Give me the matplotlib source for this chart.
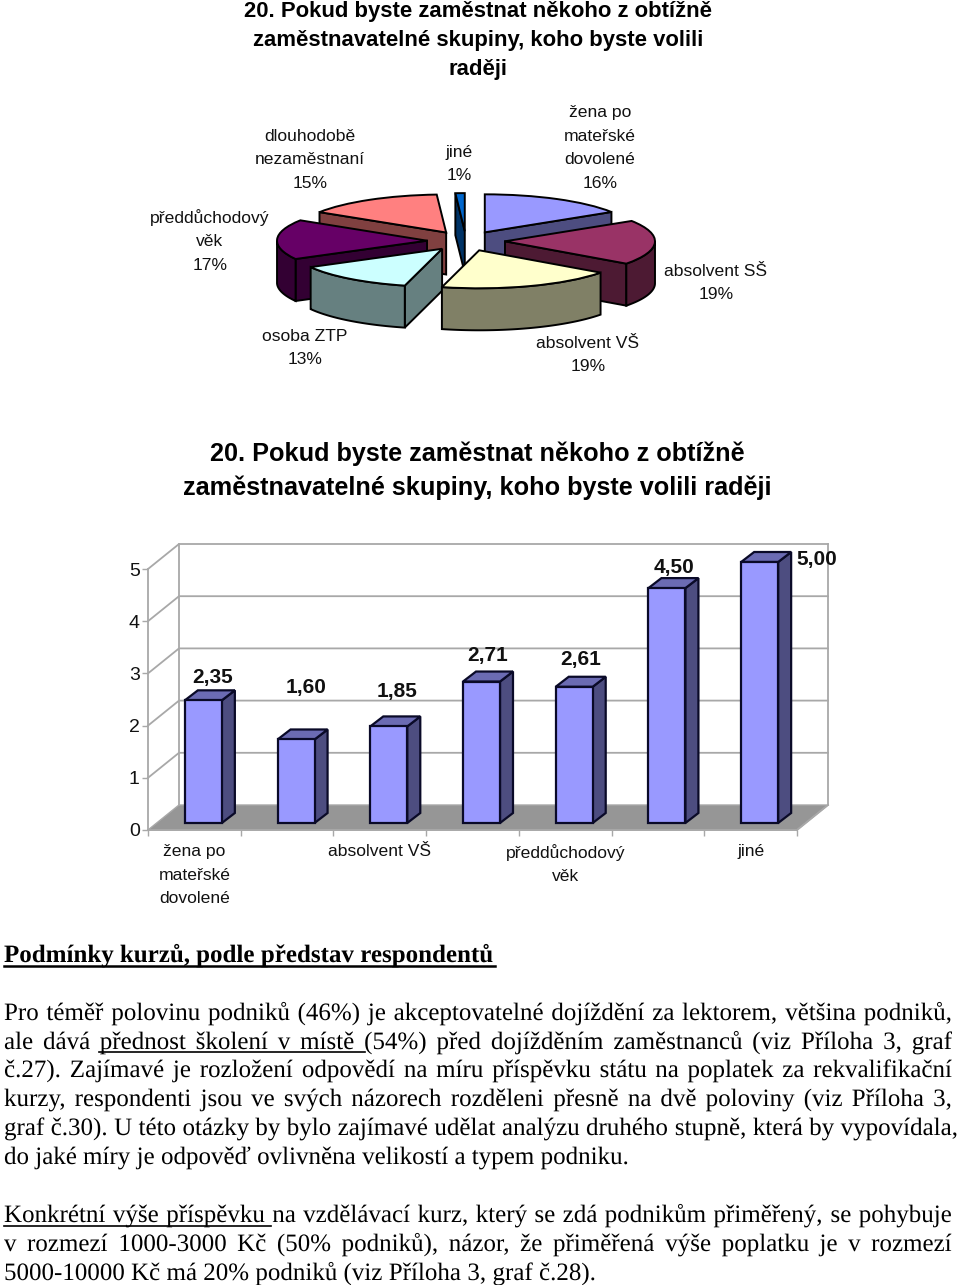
import numpy as np
import matplotlib
matplotlib.use("Agg")
import matplotlib.pyplot as plt
import matplotlib.patheffects as pe
from matplotlib.patches import Polygon

W, H = 960, 1285
DPI = 100

# pie data, clockwise from 12 o'clock
pie_shares = [16, 19, 19, 13, 17, 15, 1]
pie_top_colors = ["#9999FF", "#993366", "#FFFFCC", "#CCFFFF", "#660066", "#FF8080", "#0066CC"]
pie_side_colors = ["#4D4D80", "#4D1A33", "#808066", "#668080", "#330033", "#804040", "#003366"]
pie_labels = ["žena po\nmateřské\ndovolené\n16%", "absolvent SŠ\n19%", "absolvent VŠ\n19%", "osoba ZTP\n13%",
              "předdůchodový\nvěk\n17%", "dlouhodobě\nnezaměstnaní\n15%", "jiné\n1%"]

# bar data
bar_categories = ["žena po\nmateřské\ndovolené", "", "absolvent VŠ", "", "předdůchodový\nvěk", "", "jiné"]
bar_values = [2.35, 1.60, 1.85, 2.71, 2.61, 4.50, 5.00]
bar_value_labels = ["2,35", "1,60", "1,85", "2,71", "2,61", "4,50", "5,00"]
y_ticks = [0, 1, 2, 3, 4, 5]

title_top = ["20. Pokud byste zaměstnat někoho z obtížně", "zaměstnavatelné skupiny, koho byste volili", "raději"]
title_bar = ["20. Pokud byste zaměstnat někoho z obtížně", "zaměstnavatelné skupiny, koho byste volili raději"]

heading = "Podmínky kurzů, podle představ respondentů"
para1 = [
    "Pro téměř polovinu podniků (46%) je akceptovatelné dojíždění za lektorem, většina podniků,",
    "ale dává přednost školení v místě (54%) před dojížděním zaměstnanců (viz Příloha 3, graf",
    "č.27). Zajímavé je rozložení odpovědí na míru příspěvku státu na poplatek za rekvalifikační",
    "kurzy, respondenti jsou ve svých názorech rozděleni přesně na dvě poloviny (viz Příloha 3,",
    "graf č.30). U této otázky by bylo zajímavé udělat analýzu druhého stupně, která by vypovídala,",
]
para1_last = "do jaké míry je odpověď ovlivněna velikostí a typem podniku."
para2 = [
    "Konkrétní výše příspěvku na vzdělávací kurz, který se zdá podnikům přiměřený, se pohybuje",
    "v rozmezí 1000-3000 Kč (50% podniků), názor, že přiměřená výše poplatku je v rozmezí",
]
para2_last = "5000-10000 Kč má 20% podniků (viz Příloha 3, graf č.28)."

SANS = "Liberation Sans"
SERIF = "Liberation Serif"
LABEL_SIZE = 12.6
TEXT_SIZE = 18.0

fig = plt.figure(figsize=(W / DPI, H / DPI), dpi=DPI, facecolor="white")


def px_axes(x0, y0, x1, y1):
    # axes from pixel box, y measured from the top of the image
    return fig.add_axes([x0 / W, 1 - y1 / H, (x1 - x0) / W, (y1 - y0) / H])


page = px_axes(0, 0, W, H)
page.set_xlim(0, W)
page.set_ylim(H, 0)
page.axis("off")
page.set_zorder(5)
page.patch.set_alpha(0)

for i, line in enumerate(title_top):
    page.text(478, 12 + i * 28.5, line, ha="center", va="center", family=SANS, weight="bold", fontsize=15.9)
for i, line in enumerate(title_bar):
    page.text(477, 454 + i * 33.5, line, ha="center", va="center", family=SANS, fontsize=18.15, weight="bold")

# --- exploded 3d pie ---
RX, RY, DEPTH = 150.0, 38.0, 42.0
ax_pie = px_axes(466 - 1.5 * RX, 241 - 3 * RY, 466 + 1.5 * RX, 241 + 3 * RY)
wedges, _ = ax_pie.pie(pie_shares, startangle=90, counterclock=False, explode=[0.26] * 7,
                       colors=pie_top_colors, radius=1, wedgeprops=dict(edgecolor="black", linewidth=1.4))
ax_pie.set_aspect("auto")
ax_pie.set_xlim(-1.5, 1.5)
ax_pie.set_ylim(-3, 3)
d = DEPTH / RY

# painter order, back slices first
for zo, idx in enumerate([0, 5, 6, 4, 1, 3, 2]):
    w = wedges[idx]
    cx, cy = w.center
    a1, a2 = w.theta1, w.theta2
    side = pie_side_colors[idx]
    for a, normal in [(a1, a1 - 90), (a2, a2 + 90)]:
        if np.sin(np.radians(normal)) < -1e-6:
            ex, ey = cx + np.cos(np.radians(a)), cy + np.sin(np.radians(a))
            ax_pie.add_patch(Polygon([(cx, cy), (ex, ey), (ex, ey - d), (cx, cy - d)], closed=True,
                                     fc=side, ec="black", lw=1.4, zorder=zo * 3 + 1))
    t = np.radians(np.linspace(a1, a2, 60))
    t = t[np.sin(t) <= 0]
    if len(t) > 1:
        xs, ys = cx + np.cos(t), cy + np.sin(t)
        pts = list(zip(xs, ys)) + list(zip(xs[::-1], ys[::-1] - d))
        ax_pie.add_patch(Polygon(pts, closed=True, fc=side, ec="black", lw=1.4, zorder=zo * 3 + 2))
    w.set_zorder(zo * 3 + 3)

pie_label_xy = [(600, 148), (716, 283), (588, 355), (305, 348), (210, 241), (310, 160), (459, 164)]
for text, (x, y) in zip(pie_labels, pie_label_xy):
    page.text(x, y, text, ha="center", va="center", family=SANS, fontsize=LABEL_SIZE, color="#111111",
              linespacing=1.7)

# --- 3d bar chart ---
X0, X1, Y0, Y5 = 148, 797, 830, 569
ax_bar = px_axes(X0, Y5, X1, Y0)
ax_bar.set_xlim(-0.5, 6.5)
ax_bar.set_ylim(0, 5)
ax_bar.patch.set_alpha(0)
px_x = (X1 - X0) / 7.0  # pixels per category
px_y = (Y0 - Y5) / 5.0  # pixels per value unit
GRAY = "#A8A8A8"


def dx(p):
    return p / px_x


def dy(p):
    return p / px_y


wall_dx, wall_dy = dx(31), dy(25)
ax_bar.add_patch(Polygon([(-0.5, 0), (6.5, 0), (6.5 + wall_dx, wall_dy), (-0.5 + wall_dx, wall_dy)],
                         closed=True, fc="#969696", ec=GRAY, lw=1, clip_on=False, zorder=1))
for v in y_ticks:
    if v > 0:
        ax_bar.plot([-0.5, -0.5 + wall_dx, 6.5 + wall_dx], [v, v + wall_dy, v + wall_dy], color=GRAY, lw=1.3,
                    clip_on=False, zorder=1)
ax_bar.plot([-0.5 + wall_dx] * 2, [wall_dy, 5 + wall_dy], color=GRAY, lw=1.3, clip_on=False, zorder=1)
ax_bar.plot([6.5 + wall_dx] * 2, [wall_dy, 5 + wall_dy], color=GRAY, lw=1.3, clip_on=False, zorder=1)
ax_bar.plot([6.5, 6.5 + wall_dx], [0, wall_dy], color=GRAY, lw=1.3, clip_on=False, zorder=1)

xpos = np.arange(len(bar_values))
off_x, off_y = dx(9), dy(7)
bar_w = dx(37)
depth_x, depth_y = dx(13), dy(10)
ax_bar.bar(xpos + off_x, bar_values, width=bar_w, bottom=off_y, color="#9999FF", edgecolor="#0A0A28", linewidth=1.6,
           zorder=4, clip_on=False)
for x, v in zip(xpos, bar_values):
    l, r = x + off_x - bar_w / 2, x + off_x + bar_w / 2
    b, t = off_y, off_y + v
    ax_bar.add_patch(Polygon([(r, b), (r + depth_x, b + depth_y), (r + depth_x, t + depth_y), (r, t)], closed=True,
                             fc="#4D4D80", ec="#0A0A28", lw=1.6, zorder=3, clip_on=False))
    ax_bar.add_patch(Polygon([(l, t), (l + depth_x, t + depth_y), (r + depth_x, t + depth_y), (r, t)], closed=True,
                             fc="#6B6BB3", ec="#0A0A28", lw=1.6, zorder=3, clip_on=False))

ax_bar.set_yticks(y_ticks)
ax_bar.set_xticks(np.arange(-0.5, 7, 1), minor=False, labels=[""] * 8)
ax_bar.set_xticks(xpos, labels=bar_categories, minor=True)
ax_bar.tick_params(axis="x", which="minor", length=0, pad=10, labelsize=LABEL_SIZE, labelcolor="#111111")
ax_bar.tick_params(axis="x", which="major", length=4, color=GRAY, width=1)
ax_bar.tick_params(axis="y", length=4, color=GRAY, width=1, pad=2, labelsize=14, labelcolor="#111111")
for lab in ax_bar.get_xticklabels(minor=True) + ax_bar.get_yticklabels():
    lab.set_family(SANS)
for lab in ax_bar.get_xticklabels(minor=True):
    lab.set_linespacing(1.72)
for s in ["top", "right"]:
    ax_bar.spines[s].set_visible(False)
for s in ["left", "bottom"]:
    ax_bar.spines[s].set_color(GRAY)
    ax_bar.spines[s].set_linewidth(1.3)

# value labels sit where the chart author left them
value_label_xy = [(213, 678), (306, 688), (397, 691), (488, 656), (581, 659), (674, 568), (817, 559)]
for text, (x, y) in zip(bar_value_labels, value_label_xy):
    page.text(x, y, text, ha="center", va="center", family=SANS, weight="bold", fontsize=15, color="#111111")

# --- body text ---
fig.canvas.draw()
renderer = fig.canvas.get_renderer()


def text_w(s, **kw):
    t = page.text(0, 0, s, family=SERIF, fontsize=TEXT_SIZE, **kw)
    w = t.get_window_extent(renderer).width
    t.remove()
    return w


def draw_line(line, y, x0=4, x1=None, **kw):
    # justify by spreading words between x0 and x1
    words = line.split()
    widths = [text_w(w, **kw) for w in words]
    if x1 is None:
        gap = TEXT_SIZE * DPI / 72 * 0.25
    else:
        gap = (x1 - x0 - sum(widths)) / (len(words) - 1)
    x = x0
    for word, ww in zip(words, widths):
        # path effect draws the word as a path, keeps the baselines of all words level
        page.text(x, y, word, family=SERIF, fontsize=TEXT_SIZE, va="baseline", ha="left",
                  path_effects=[pe.Normal()], **kw)
        x += ww + gap


RIGHT = [952, 952, 952, 952, 958]
line_y = [1020, 1049, 1077, 1106, 1135]
for line, y, r in zip(para1, line_y, RIGHT):
    draw_line(line, y, x1=r)
draw_line(para1_last, 1164)
for line, y, r in zip(para2, [1222, 1251], [952, 952]):
    draw_line(line, y, x1=r)
draw_line(para2_last, 1280)
draw_line(heading, 962, weight="bold")

for x0, x1, y, lw in [(4, 495, 966, 1.8), (99, 365, 1052, 1.2), (4, 271, 1226, 1.2)]:
    page.plot([x0, x1], [y, y], color="black", lw=lw)

fig.savefig("out.png", dpi=DPI)
